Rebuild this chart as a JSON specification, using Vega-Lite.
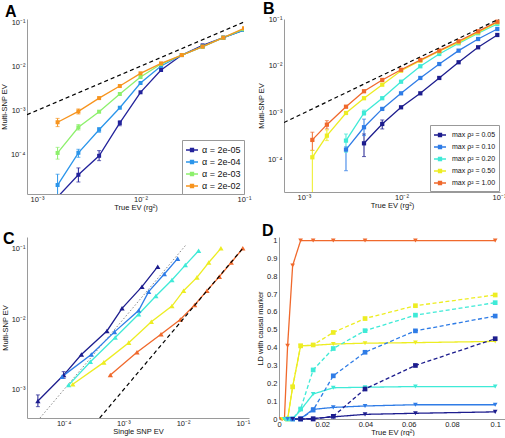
{
  "$schema": "https://vega.github.io/schema/vega-lite/v6.json",
  "padding": {"left": 0, "top": 0, "right": 0, "bottom": 0},
  "config": {
    "font": "Liberation Sans",
    "view": {"stroke": null},
    "title": {"fontSize": 16, "fontWeight": "bold", "font": "Liberation Sans", "anchor": "start", "frame": "group", "color": "#000000"},
    "axis": {"grid": false, "ticks": false, "domainColor": "#9a9a9a", "labelFont": "Liberation Sans", "labelFontSize": 7.5, "labelColor": "#222222", "labelPadding": 2, "titleFont": "Liberation Sans", "titleFontSize": 7.5, "titleFontWeight": "normal", "titleColor": "#111111", "titlePadding": 2, "labelFlush": false, "labelOverlap": false},
    "axisX": {"labelPadding": 1, "titlePadding": 1},
    "legend": {"labelFont": "Liberation Sans", "labelColor": "#111111"}
  },
  "datasets": {
    "A": [
      {"s": "α = 2e-05", "x": 0.00158, "y": 0.000011},
      {"s": "α = 2e-05", "x": 0.00251, "y": 0.000035, "lo": 0.000024, "hi": 0.00005},
      {"s": "α = 2e-05", "x": 0.00398, "y": 0.000094, "lo": 0.000073, "hi": 0.000123},
      {"s": "α = 2e-05", "x": 0.00631, "y": 0.00052, "lo": 0.00045, "hi": 0.000585},
      {"s": "α = 2e-05", "x": 0.01, "y": 0.00257},
      {"s": "α = 2e-05", "x": 0.0158, "y": 0.0082},
      {"s": "α = 2e-05", "x": 0.0251, "y": 0.0179},
      {"s": "α = 2e-05", "x": 0.0398, "y": 0.0296},
      {"s": "α = 2e-05", "x": 0.0631, "y": 0.0442},
      {"s": "α = 2e-05", "x": 0.1, "y": 0.066},
      {"s": "α = 2e-04", "x": 0.00158, "y": 0.0000205, "lo": 0.00001, "hi": 0.000036},
      {"s": "α = 2e-04", "x": 0.00251, "y": 0.00011, "lo": 0.000087, "hi": 0.000132},
      {"s": "α = 2e-04", "x": 0.00398, "y": 0.000366, "lo": 0.00032, "hi": 0.00041},
      {"s": "α = 2e-04", "x": 0.00631, "y": 0.00115},
      {"s": "α = 2e-04", "x": 0.01, "y": 0.00417},
      {"s": "α = 2e-04", "x": 0.0158, "y": 0.0101},
      {"s": "α = 2e-04", "x": 0.0251, "y": 0.0179},
      {"s": "α = 2e-04", "x": 0.0398, "y": 0.0277},
      {"s": "α = 2e-04", "x": 0.0631, "y": 0.0442},
      {"s": "α = 2e-04", "x": 0.1, "y": 0.066},
      {"s": "α = 2e-03", "x": 0.00158, "y": 0.000109, "lo": 0.000079, "hi": 0.000146},
      {"s": "α = 2e-03", "x": 0.00251, "y": 0.000414, "lo": 0.00036, "hi": 0.00048},
      {"s": "α = 2e-03", "x": 0.00398, "y": 0.000935},
      {"s": "α = 2e-03", "x": 0.00631, "y": 0.00235},
      {"s": "α = 2e-03", "x": 0.01, "y": 0.0057},
      {"s": "α = 2e-03", "x": 0.0158, "y": 0.0112},
      {"s": "α = 2e-03", "x": 0.0251, "y": 0.0179},
      {"s": "α = 2e-03", "x": 0.0398, "y": 0.0277},
      {"s": "α = 2e-03", "x": 0.0631, "y": 0.0442},
      {"s": "α = 2e-03", "x": 0.1, "y": 0.069},
      {"s": "α = 2e-02", "x": 0.00158, "y": 0.00054, "lo": 0.00043, "hi": 0.00066},
      {"s": "α = 2e-02", "x": 0.00251, "y": 0.00095, "lo": 0.00083, "hi": 0.00108},
      {"s": "α = 2e-02", "x": 0.00398, "y": 0.0019},
      {"s": "α = 2e-02", "x": 0.00631, "y": 0.00356},
      {"s": "α = 2e-02", "x": 0.01, "y": 0.0069},
      {"s": "α = 2e-02", "x": 0.0158, "y": 0.0116},
      {"s": "α = 2e-02", "x": 0.0251, "y": 0.0179},
      {"s": "α = 2e-02", "x": 0.0398, "y": 0.0277},
      {"s": "α = 2e-02", "x": 0.0631, "y": 0.0442},
      {"s": "α = 2e-02", "x": 0.1, "y": 0.072}
    ],
    "diagA": [{"x": 0.0008, "y": 0.0008}, {"x": 0.1, "y": 0.1}],
    "B": [
      {"s": "max ρ² = 0.05", "x": 0.00413, "y": 0.000226, "lo": 0.000118, "hi": 0.000357},
      {"s": "max ρ² = 0.05", "x": 0.00635, "y": 0.000583, "lo": 0.000457, "hi": 0.00071},
      {"s": "max ρ² = 0.05", "x": 0.0099, "y": 0.00132},
      {"s": "max ρ² = 0.05", "x": 0.0156, "y": 0.00262},
      {"s": "max ρ² = 0.05", "x": 0.0244, "y": 0.00556},
      {"s": "max ρ² = 0.05", "x": 0.0385, "y": 0.012},
      {"s": "max ρ² = 0.05", "x": 0.061, "y": 0.025},
      {"s": "max ρ² = 0.05", "x": 0.096, "y": 0.0457},
      {"s": "max ρ² = 0.10", "x": 0.0027, "y": 0.000166, "lo": 0.000059, "hi": 0.00019},
      {"s": "max ρ² = 0.10", "x": 0.00413, "y": 0.000497, "lo": 0.00033, "hi": 0.00074},
      {"s": "max ρ² = 0.10", "x": 0.00635, "y": 0.00122},
      {"s": "max ρ² = 0.10", "x": 0.0099, "y": 0.00262},
      {"s": "max ρ² = 0.10", "x": 0.0156, "y": 0.00556},
      {"s": "max ρ² = 0.10", "x": 0.0244, "y": 0.011},
      {"s": "max ρ² = 0.10", "x": 0.0385, "y": 0.0212},
      {"s": "max ρ² = 0.10", "x": 0.061, "y": 0.0375},
      {"s": "max ρ² = 0.10", "x": 0.096, "y": 0.0612},
      {"s": "max ρ² = 0.20", "x": 0.0027, "y": 0.000258, "lo": 0.000146, "hi": 0.000357},
      {"s": "max ρ² = 0.20", "x": 0.00413, "y": 0.001, "lo": 0.0009, "hi": 0.00115},
      {"s": "max ρ² = 0.20", "x": 0.00635, "y": 0.00206},
      {"s": "max ρ² = 0.20", "x": 0.0099, "y": 0.00463},
      {"s": "max ρ² = 0.20", "x": 0.0156, "y": 0.00986},
      {"s": "max ρ² = 0.20", "x": 0.0244, "y": 0.018},
      {"s": "max ρ² = 0.20", "x": 0.0385, "y": 0.0304},
      {"s": "max ρ² = 0.20", "x": 0.061, "y": 0.0497},
      {"s": "max ρ² = 0.20", "x": 0.096, "y": 0.0783},
      {"s": "max ρ² = 0.50", "x": 0.00122, "y": 0.000114, "lo": 0.00001, "hi": 0.00016},
      {"s": "max ρ² = 0.50", "x": 0.00172, "y": 0.000329, "lo": 0.000258, "hi": 0.000436},
      {"s": "max ρ² = 0.50", "x": 0.0027, "y": 0.001},
      {"s": "max ρ² = 0.50", "x": 0.00413, "y": 0.00206},
      {"s": "max ρ² = 0.50", "x": 0.00635, "y": 0.004},
      {"s": "max ρ² = 0.50", "x": 0.0099, "y": 0.00794},
      {"s": "max ρ² = 0.50", "x": 0.0156, "y": 0.013},
      {"s": "max ρ² = 0.50", "x": 0.0244, "y": 0.0206},
      {"s": "max ρ² = 0.50", "x": 0.0385, "y": 0.0319},
      {"s": "max ρ² = 0.50", "x": 0.061, "y": 0.052},
      {"s": "max ρ² = 0.50", "x": 0.096, "y": 0.085},
      {"s": "max ρ² = 1.00", "x": 0.00122, "y": 0.000267, "lo": 0.00016, "hi": 0.00039},
      {"s": "max ρ² = 1.00", "x": 0.00172, "y": 0.000564, "lo": 0.000457, "hi": 0.000686},
      {"s": "max ρ² = 1.00", "x": 0.0027, "y": 0.00136},
      {"s": "max ρ² = 1.00", "x": 0.00413, "y": 0.0029},
      {"s": "max ρ² = 1.00", "x": 0.00635, "y": 0.00504},
      {"s": "max ρ² = 1.00", "x": 0.0099, "y": 0.0083},
      {"s": "max ρ² = 1.00", "x": 0.0156, "y": 0.0134},
      {"s": "max ρ² = 1.00", "x": 0.0244, "y": 0.0212},
      {"s": "max ρ² = 1.00", "x": 0.0385, "y": 0.0336},
      {"s": "max ρ² = 1.00", "x": 0.061, "y": 0.0547},
      {"s": "max ρ² = 1.00", "x": 0.096, "y": 0.0877}
    ],
    "diagB": [{"x": 0.000625, "y": 0.000625}, {"x": 0.1, "y": 0.1}],
    "C": [
      {"s": "max ρ² = 0.05", "x": 0.000037, "y": 0.000697, "lo": 0.00058, "hi": 0.00085},
      {"s": "max ρ² = 0.05", "x": 0.0001, "y": 0.00162, "lo": 0.00146, "hi": 0.00181},
      {"s": "max ρ² = 0.05", "x": 0.000198, "y": 0.00316},
      {"s": "max ρ² = 0.05", "x": 0.00053, "y": 0.0068},
      {"s": "max ρ² = 0.05", "x": 0.00095, "y": 0.0142},
      {"s": "max ρ² = 0.05", "x": 0.00205, "y": 0.0287},
      {"s": "max ρ² = 0.05", "x": 0.00376, "y": 0.055},
      {"s": "max ρ² = 0.10", "x": 0.000094, "y": 0.00154},
      {"s": "max ρ² = 0.10", "x": 0.00029, "y": 0.00316},
      {"s": "max ρ² = 0.10", "x": 0.00071, "y": 0.0066},
      {"s": "max ρ² = 0.10", "x": 0.0018, "y": 0.0132},
      {"s": "max ρ² = 0.10", "x": 0.00265, "y": 0.0244},
      {"s": "max ρ² = 0.10", "x": 0.00485, "y": 0.0434},
      {"s": "max ρ² = 0.10", "x": 0.0081, "y": 0.0715},
      {"s": "max ρ² = 0.20", "x": 0.000121, "y": 0.00117},
      {"s": "max ρ² = 0.20", "x": 0.00028, "y": 0.0025},
      {"s": "max ρ² = 0.20", "x": 0.00073, "y": 0.0055},
      {"s": "max ρ² = 0.20", "x": 0.0018, "y": 0.0117},
      {"s": "max ρ² = 0.20", "x": 0.0035, "y": 0.0212},
      {"s": "max ρ² = 0.20", "x": 0.0065, "y": 0.0357},
      {"s": "max ρ² = 0.20", "x": 0.0109, "y": 0.058},
      {"s": "max ρ² = 0.20", "x": 0.0182, "y": 0.0925},
      {"s": "max ρ² = 0.50", "x": 0.000142, "y": 0.0012},
      {"s": "max ρ² = 0.50", "x": 0.00047, "y": 0.00245},
      {"s": "max ρ² = 0.50", "x": 0.00123, "y": 0.00465},
      {"s": "max ρ² = 0.50", "x": 0.00294, "y": 0.0092},
      {"s": "max ρ² = 0.50", "x": 0.0065, "y": 0.0153},
      {"s": "max ρ² = 0.50", "x": 0.0102, "y": 0.0252},
      {"s": "max ρ² = 0.50", "x": 0.0171, "y": 0.0389},
      {"s": "max ρ² = 0.50", "x": 0.0269, "y": 0.063},
      {"s": "max ρ² = 0.50", "x": 0.043, "y": 0.1},
      {"s": "max ρ² = 1.00", "x": 0.000605, "y": 0.00162},
      {"s": "max ρ² = 1.00", "x": 0.00169, "y": 0.0034},
      {"s": "max ρ² = 1.00", "x": 0.00427, "y": 0.0061},
      {"s": "max ρ² = 1.00", "x": 0.009, "y": 0.0099},
      {"s": "max ρ² = 1.00", "x": 0.0156, "y": 0.0158},
      {"s": "max ρ² = 1.00", "x": 0.0251, "y": 0.0252},
      {"s": "max ρ² = 1.00", "x": 0.0405, "y": 0.0398},
      {"s": "max ρ² = 1.00", "x": 0.064, "y": 0.063},
      {"s": "max ρ² = 1.00", "x": 0.1, "y": 0.1}
    ],
    "diagC": [{"x": 0.000401, "y": 0.000401}, {"x": 0.1, "y": 0.1}],
    "dotC": [{"x": 0.0000401, "y": 0.000401}, {"x": 0.011, "y": 0.11}],
    "D": [
      {"s": "max ρ² = 1.00", "type": "top SNP", "x": 0.001, "y": 0},
      {"s": "max ρ² = 1.00", "type": "top SNP", "x": 0.00158, "y": 0},
      {"s": "max ρ² = 1.00", "type": "top SNP", "x": 0.00251, "y": 0},
      {"s": "max ρ² = 1.00", "type": "top SNP", "x": 0.00398, "y": 0.41},
      {"s": "max ρ² = 1.00", "type": "top SNP", "x": 0.00631, "y": 0.86},
      {"s": "max ρ² = 1.00", "type": "top SNP", "x": 0.01, "y": 1},
      {"s": "max ρ² = 1.00", "type": "top SNP", "x": 0.0158, "y": 1},
      {"s": "max ρ² = 1.00", "type": "top SNP", "x": 0.0251, "y": 1},
      {"s": "max ρ² = 1.00", "type": "top SNP", "x": 0.0398, "y": 1},
      {"s": "max ρ² = 1.00", "type": "top SNP", "x": 0.0631, "y": 1},
      {"s": "max ρ² = 1.00", "type": "top SNP", "x": 0.1, "y": 1},
      {"s": "max ρ² = 0.50", "type": "top SNP", "x": 0.00158, "y": 0},
      {"s": "max ρ² = 0.50", "type": "top SNP", "x": 0.00251, "y": 0},
      {"s": "max ρ² = 0.50", "type": "top SNP", "x": 0.00398, "y": 0},
      {"s": "max ρ² = 0.50", "type": "top SNP", "x": 0.00631, "y": 0.18},
      {"s": "max ρ² = 0.50", "type": "top SNP", "x": 0.01, "y": 0.41},
      {"s": "max ρ² = 0.50", "type": "top SNP", "x": 0.0158, "y": 0.413},
      {"s": "max ρ² = 0.50", "type": "top SNP", "x": 0.0251, "y": 0.42},
      {"s": "max ρ² = 0.50", "type": "top SNP", "x": 0.0398, "y": 0.425},
      {"s": "max ρ² = 0.50", "type": "top SNP", "x": 0.0631, "y": 0.428},
      {"s": "max ρ² = 0.50", "type": "top SNP", "x": 0.1, "y": 0.435},
      {"s": "max ρ² = 0.50", "type": "meta-SNP", "x": 0.00398, "y": 0},
      {"s": "max ρ² = 0.50", "type": "meta-SNP", "x": 0.00631, "y": 0.18},
      {"s": "max ρ² = 0.50", "type": "meta-SNP", "x": 0.01, "y": 0.41},
      {"s": "max ρ² = 0.50", "type": "meta-SNP", "x": 0.0158, "y": 0.415},
      {"s": "max ρ² = 0.50", "type": "meta-SNP", "x": 0.0251, "y": 0.485},
      {"s": "max ρ² = 0.50", "type": "meta-SNP", "x": 0.0398, "y": 0.563},
      {"s": "max ρ² = 0.50", "type": "meta-SNP", "x": 0.0631, "y": 0.635},
      {"s": "max ρ² = 0.50", "type": "meta-SNP", "x": 0.1, "y": 0.695},
      {"s": "max ρ² = 0.20", "type": "top SNP", "x": 0.00251, "y": 0},
      {"s": "max ρ² = 0.20", "type": "top SNP", "x": 0.00398, "y": 0},
      {"s": "max ρ² = 0.20", "type": "top SNP", "x": 0.00631, "y": 0},
      {"s": "max ρ² = 0.20", "type": "top SNP", "x": 0.01, "y": 0.05},
      {"s": "max ρ² = 0.20", "type": "top SNP", "x": 0.0158, "y": 0.14},
      {"s": "max ρ² = 0.20", "type": "top SNP", "x": 0.0251, "y": 0.175},
      {"s": "max ρ² = 0.20", "type": "top SNP", "x": 0.0398, "y": 0.178},
      {"s": "max ρ² = 0.20", "type": "top SNP", "x": 0.0631, "y": 0.182},
      {"s": "max ρ² = 0.20", "type": "top SNP", "x": 0.1, "y": 0.182},
      {"s": "max ρ² = 0.20", "type": "meta-SNP", "x": 0.00398, "y": 0},
      {"s": "max ρ² = 0.20", "type": "meta-SNP", "x": 0.00631, "y": 0},
      {"s": "max ρ² = 0.20", "type": "meta-SNP", "x": 0.01, "y": 0.056},
      {"s": "max ρ² = 0.20", "type": "meta-SNP", "x": 0.0158, "y": 0.275},
      {"s": "max ρ² = 0.20", "type": "meta-SNP", "x": 0.0251, "y": 0.395},
      {"s": "max ρ² = 0.20", "type": "meta-SNP", "x": 0.0398, "y": 0.495},
      {"s": "max ρ² = 0.20", "type": "meta-SNP", "x": 0.0631, "y": 0.582},
      {"s": "max ρ² = 0.20", "type": "meta-SNP", "x": 0.1, "y": 0.652},
      {"s": "max ρ² = 0.10", "type": "top SNP", "x": 0.00398, "y": 0},
      {"s": "max ρ² = 0.10", "type": "top SNP", "x": 0.00631, "y": 0},
      {"s": "max ρ² = 0.10", "type": "top SNP", "x": 0.01, "y": 0.002},
      {"s": "max ρ² = 0.10", "type": "top SNP", "x": 0.0158, "y": 0.054},
      {"s": "max ρ² = 0.10", "type": "top SNP", "x": 0.0251, "y": 0.065},
      {"s": "max ρ² = 0.10", "type": "top SNP", "x": 0.0398, "y": 0.073},
      {"s": "max ρ² = 0.10", "type": "top SNP", "x": 0.0631, "y": 0.08},
      {"s": "max ρ² = 0.10", "type": "top SNP", "x": 0.1, "y": 0.08},
      {"s": "max ρ² = 0.10", "type": "meta-SNP", "x": 0.00631, "y": 0},
      {"s": "max ρ² = 0.10", "type": "meta-SNP", "x": 0.01, "y": 0},
      {"s": "max ρ² = 0.10", "type": "meta-SNP", "x": 0.0158, "y": 0.05},
      {"s": "max ρ² = 0.10", "type": "meta-SNP", "x": 0.0251, "y": 0.242},
      {"s": "max ρ² = 0.10", "type": "meta-SNP", "x": 0.0398, "y": 0.374},
      {"s": "max ρ² = 0.10", "type": "meta-SNP", "x": 0.0631, "y": 0.494},
      {"s": "max ρ² = 0.10", "type": "meta-SNP", "x": 0.1, "y": 0.577},
      {"s": "max ρ² = 0.05", "type": "top SNP", "x": 0.00631, "y": 0},
      {"s": "max ρ² = 0.05", "type": "top SNP", "x": 0.01, "y": 0},
      {"s": "max ρ² = 0.05", "type": "top SNP", "x": 0.0158, "y": 0.003},
      {"s": "max ρ² = 0.05", "type": "top SNP", "x": 0.0251, "y": 0.012},
      {"s": "max ρ² = 0.05", "type": "top SNP", "x": 0.0398, "y": 0.026},
      {"s": "max ρ² = 0.05", "type": "top SNP", "x": 0.0631, "y": 0.032},
      {"s": "max ρ² = 0.05", "type": "top SNP", "x": 0.1, "y": 0.04},
      {"s": "max ρ² = 0.05", "type": "meta-SNP", "x": 0.01, "y": 0},
      {"s": "max ρ² = 0.05", "type": "meta-SNP", "x": 0.0158, "y": 0},
      {"s": "max ρ² = 0.05", "type": "meta-SNP", "x": 0.0251, "y": 0.015},
      {"s": "max ρ² = 0.05", "type": "meta-SNP", "x": 0.0398, "y": 0.168},
      {"s": "max ρ² = 0.05", "type": "meta-SNP", "x": 0.0631, "y": 0.3},
      {"s": "max ρ² = 0.05", "type": "meta-SNP", "x": 0.1, "y": 0.45}
    ]
  },
  "spacing": 11,
  "resolve": {"scale": {"color": "independent", "fill": "independent", "stroke": "independent", "shape": "independent", "strokeDash": "independent"}},
  "vconcat": [
    {
      "spacing": 40,
      "bounds": "flush",
      "resolve": {"scale": {"color": "independent", "fill": "independent", "stroke": "independent", "shape": "independent", "strokeDash": "independent"}},
      "hconcat": [
        {
          "width": 217, "height": 175,
          "title": {"text": "A", "dx": -22, "offset": -1.5},
          "encoding": {
            "x": {"field": "x", "type": "quantitative", "scale": {"type": "log", "domain": [0.0008, 0.1], "nice": false}, "axis": {"title": "True EV (rg²)", "values": [0.001, 0.01, 0.1], "labelExpr": "'10' + ['⁻¹','⁻²','⁻³','⁻⁴','⁻⁵'][round(-log(datum.value)/LN10) - 1]"}},
            "y": {"field": "y", "type": "quantitative", "scale": {"type": "log", "domain": [0.00001285, 0.117], "nice": false}, "axis": {"title": "Multi-SNP EV", "values": [0.0001, 0.001, 0.01, 0.1], "labelExpr": "'10' + ['⁻¹','⁻²','⁻³','⁻⁴','⁻⁵'][round(-log(datum.value)/LN10) - 1]"}}
          },
          "layer": [
            {
              "data": {"name": "A"},
              "transform": [{"filter": "isValid(datum.lo)"}],
              "mark": {"type": "rule", "strokeWidth": 1, "clip": true},
              "encoding": {
                "y": {"field": "lo", "type": "quantitative", "scale": {"type": "log", "domain": [0.00001285, 0.117], "nice": false}, "axis": {"title": "Multi-SNP EV", "values": [0.0001, 0.001, 0.01, 0.1], "labelExpr": "'10' + ['⁻¹','⁻²','⁻³','⁻⁴','⁻⁵'][round(-log(datum.value)/LN10) - 1]"}},
                "y2": {"field": "hi"},
                "color": {"condition": [{"test": "datum.s === 'α = 2e-05'", "value": "#23239b"}, {"test": "datum.s === 'α = 2e-04'", "value": "#2b95ea"}, {"test": "datum.s === 'α = 2e-03'", "value": "#8df06c"}], "value": "#f7941e"}
              }
            },
            {
              "data": {"name": "A"},
              "transform": [{"filter": "isValid(datum.lo)"}],
              "mark": {"type": "tick", "orient": "horizontal", "size": 4, "thickness": 1, "clip": true},
              "encoding": {
                "y": {"field": "lo", "type": "quantitative", "scale": {"type": "log", "domain": [0.00001285, 0.117], "nice": false}, "axis": {"title": "Multi-SNP EV", "values": [0.0001, 0.001, 0.01, 0.1], "labelExpr": "'10' + ['⁻¹','⁻²','⁻³','⁻⁴','⁻⁵'][round(-log(datum.value)/LN10) - 1]"}},
                "color": {"condition": [{"test": "datum.s === 'α = 2e-05'", "value": "#23239b"}, {"test": "datum.s === 'α = 2e-04'", "value": "#2b95ea"}, {"test": "datum.s === 'α = 2e-03'", "value": "#8df06c"}], "value": "#f7941e"}
              }
            },
            {
              "data": {"name": "A"},
              "transform": [{"filter": "isValid(datum.hi)"}],
              "mark": {"type": "tick", "orient": "horizontal", "size": 4, "thickness": 1, "clip": true},
              "encoding": {
                "y": {"field": "hi", "type": "quantitative", "scale": {"type": "log", "domain": [0.00001285, 0.117], "nice": false}, "axis": {"title": "Multi-SNP EV", "values": [0.0001, 0.001, 0.01, 0.1], "labelExpr": "'10' + ['⁻¹','⁻²','⁻³','⁻⁴','⁻⁵'][round(-log(datum.value)/LN10) - 1]"}},
                "color": {"condition": [{"test": "datum.s === 'α = 2e-05'", "value": "#23239b"}, {"test": "datum.s === 'α = 2e-04'", "value": "#2b95ea"}, {"test": "datum.s === 'α = 2e-03'", "value": "#8df06c"}], "value": "#f7941e"}
              }
            },
            {
              "data": {"name": "A"},
              "mark": {"type": "line", "strokeWidth": 1.3, "clip": true},
              "encoding": {
                "color": {"field": "s", "type": "nominal", "scale": {"domain": ["α = 2e-05", "α = 2e-04", "α = 2e-03", "α = 2e-02"], "range": ["#23239b", "#2b95ea", "#8df06c", "#f7941e"]},
                  "legend": {"title": null, "orient": "bottom-right", "offset": 0, "fillColor": "#ffffff", "strokeColor": "#999999", "padding": 3, "labelFontSize": 9, "labelOffset": 3, "symbolType": "M-1,0L1,0M-0.25,-0.25L0.25,-0.25L0.25,0.25L-0.25,0.25Z", "symbolSize": 144, "symbolStrokeWidth": 1.3, "rowPadding": 0}}
              }
            },
            {
              "data": {"name": "A"},
              "mark": {"type": "point", "shape": "square", "filled": true, "size": 16, "opacity": 1, "clip": true},
              "encoding": {
                "color": {"condition": [{"test": "datum.s === 'α = 2e-05'", "value": "#23239b"}, {"test": "datum.s === 'α = 2e-04'", "value": "#2b95ea"}, {"test": "datum.s === 'α = 2e-03'", "value": "#8df06c"}], "value": "#f7941e"}
              }
            },
            {
              "data": {"name": "diagA"},
              "mark": {"type": "line", "strokeDash": [4, 3], "color": "#000000", "strokeWidth": 1.2, "clip": true},
              "encoding": {}
            }
          ]
        },
        {
          "width": 216, "height": 173,
          "title": {"text": "B", "dx": -21, "offset": -1.5},
          "encoding": {
            "x": {"field": "x", "type": "quantitative", "scale": {"type": "log", "domain": [0.000625, 0.1023], "nice": false}, "axis": {"title": "True EV (rg²)", "values": [0.001, 0.01, 0.1], "labelExpr": "'10' + ['⁻¹','⁻²','⁻³','⁻⁴','⁻⁵'][round(-log(datum.value)/LN10) - 1]"}},
            "y": {"field": "y", "type": "quantitative", "scale": {"type": "log", "domain": [0.0000208, 0.1], "nice": false}, "axis": {"title": "Multi-SNP EV", "values": [0.0001, 0.001, 0.01, 0.1], "labelExpr": "'10' + ['⁻¹','⁻²','⁻³','⁻⁴','⁻⁵'][round(-log(datum.value)/LN10) - 1]"}}
          },
          "layer": [
            {
              "data": {"name": "B"},
              "transform": [{"filter": "isValid(datum.lo)"}],
              "mark": {"type": "rule", "strokeWidth": 1, "clip": true},
              "encoding": {
                "y": {"field": "lo", "type": "quantitative", "scale": {"type": "log", "domain": [0.0000208, 0.1], "nice": false}, "axis": {"title": "Multi-SNP EV", "values": [0.0001, 0.001, 0.01, 0.1], "labelExpr": "'10' + ['⁻¹','⁻²','⁻³','⁻⁴','⁻⁵'][round(-log(datum.value)/LN10) - 1]"}},
                "y2": {"field": "hi"},
                "color": {"condition": [{"test": "datum.s === 'max ρ² = 0.05'", "value": "#1d1d8e"}, {"test": "datum.s === 'max ρ² = 0.10'", "value": "#2f7ce6"}, {"test": "datum.s === 'max ρ² = 0.20'", "value": "#3fead7"}, {"test": "datum.s === 'max ρ² = 0.50'", "value": "#eded22"}], "value": "#f0692c"}
              }
            },
            {
              "data": {"name": "B"},
              "transform": [{"filter": "isValid(datum.lo)"}],
              "mark": {"type": "tick", "orient": "horizontal", "size": 4, "thickness": 1, "clip": true},
              "encoding": {
                "y": {"field": "lo", "type": "quantitative", "scale": {"type": "log", "domain": [0.0000208, 0.1], "nice": false}, "axis": {"title": "Multi-SNP EV", "values": [0.0001, 0.001, 0.01, 0.1], "labelExpr": "'10' + ['⁻¹','⁻²','⁻³','⁻⁴','⁻⁵'][round(-log(datum.value)/LN10) - 1]"}},
                "color": {"condition": [{"test": "datum.s === 'max ρ² = 0.05'", "value": "#1d1d8e"}, {"test": "datum.s === 'max ρ² = 0.10'", "value": "#2f7ce6"}, {"test": "datum.s === 'max ρ² = 0.20'", "value": "#3fead7"}, {"test": "datum.s === 'max ρ² = 0.50'", "value": "#eded22"}], "value": "#f0692c"}
              }
            },
            {
              "data": {"name": "B"},
              "transform": [{"filter": "isValid(datum.hi)"}],
              "mark": {"type": "tick", "orient": "horizontal", "size": 4, "thickness": 1, "clip": true},
              "encoding": {
                "y": {"field": "hi", "type": "quantitative", "scale": {"type": "log", "domain": [0.0000208, 0.1], "nice": false}, "axis": {"title": "Multi-SNP EV", "values": [0.0001, 0.001, 0.01, 0.1], "labelExpr": "'10' + ['⁻¹','⁻²','⁻³','⁻⁴','⁻⁵'][round(-log(datum.value)/LN10) - 1]"}},
                "color": {"condition": [{"test": "datum.s === 'max ρ² = 0.05'", "value": "#1d1d8e"}, {"test": "datum.s === 'max ρ² = 0.10'", "value": "#2f7ce6"}, {"test": "datum.s === 'max ρ² = 0.20'", "value": "#3fead7"}, {"test": "datum.s === 'max ρ² = 0.50'", "value": "#eded22"}], "value": "#f0692c"}
              }
            },
            {
              "data": {"name": "B"},
              "mark": {"type": "line", "strokeWidth": 1.3, "clip": true},
              "encoding": {
                "color": {"field": "s", "type": "nominal", "scale": {"domain": ["max ρ² = 0.05", "max ρ² = 0.10", "max ρ² = 0.20", "max ρ² = 0.50", "max ρ² = 1.00"], "range": ["#1d1d8e", "#2f7ce6", "#3fead7", "#eded22", "#f0692c"]},
                  "legend": {"title": null, "orient": "bottom-right", "offset": 1, "fillColor": "#ffffff", "strokeColor": "#999999", "padding": 3, "labelFontSize": 7, "labelOffset": 5, "symbolType": "M-1,0L1,0M-0.25,-0.25L0.25,-0.25L0.25,0.25L-0.25,0.25Z", "symbolSize": 144, "symbolStrokeWidth": 1.3, "rowPadding": 0}}
              }
            },
            {
              "data": {"name": "B"},
              "mark": {"type": "point", "shape": "square", "filled": true, "size": 18, "opacity": 1, "clip": true},
              "encoding": {
                "color": {"condition": [{"test": "datum.s === 'max ρ² = 0.05'", "value": "#1d1d8e"}, {"test": "datum.s === 'max ρ² = 0.10'", "value": "#2f7ce6"}, {"test": "datum.s === 'max ρ² = 0.20'", "value": "#3fead7"}, {"test": "datum.s === 'max ρ² = 0.50'", "value": "#eded22"}], "value": "#f0692c"}
              }
            },
            {
              "data": {"name": "diagB"},
              "mark": {"type": "line", "strokeDash": [4, 3], "color": "#000000", "strokeWidth": 1.2, "clip": true},
              "encoding": {}
            }
          ]
        }
      ]
    },
    {
      "spacing": 30,
      "bounds": "flush",
      "resolve": {"scale": {"color": "independent", "fill": "independent", "stroke": "independent", "shape": "independent", "strokeDash": "independent"}},
      "hconcat": [
        {
          "width": 222, "height": 181,
          "title": {"text": "C", "dx": -24, "offset": -9.5},
          "encoding": {
            "x": {"field": "x", "type": "quantitative", "scale": {"type": "log", "domain": [0.0000243, 0.127], "nice": false}, "axis": {"title": "Single SNP EV", "values": [0.0001, 0.001, 0.01, 0.1], "labelExpr": "'10' + ['⁻¹','⁻²','⁻³','⁻⁴','⁻⁵'][round(-log(datum.value)/LN10) - 1]"}},
            "y": {"field": "y", "type": "quantitative", "scale": {"type": "log", "domain": [0.000401, 0.1445], "nice": false}, "axis": {"title": "Multi-SNP EV", "values": [0.001, 0.01, 0.1], "labelExpr": "'10' + ['⁻¹','⁻²','⁻³','⁻⁴','⁻⁵'][round(-log(datum.value)/LN10) - 1]"}}
          },
          "layer": [
            {
              "data": {"name": "dotC"},
              "mark": {"type": "line", "strokeDash": [1.5, 2], "color": "#888888", "strokeWidth": 1, "clip": true},
              "encoding": {}
            },
            {
              "data": {"name": "C"},
              "transform": [{"filter": "isValid(datum.lo)"}],
              "mark": {"type": "rule", "strokeWidth": 1, "clip": true},
              "encoding": {
                "y": {"field": "lo", "type": "quantitative", "scale": {"type": "log", "domain": [0.000401, 0.1445], "nice": false}, "axis": {"title": "Multi-SNP EV", "values": [0.001, 0.01, 0.1], "labelExpr": "'10' + ['⁻¹','⁻²','⁻³','⁻⁴','⁻⁵'][round(-log(datum.value)/LN10) - 1]"}},
                "y2": {"field": "hi"},
                "stroke": {"field": "s", "type": "nominal", "scale": {"domain": ["max ρ² = 0.05", "max ρ² = 0.10", "max ρ² = 0.20", "max ρ² = 0.50", "max ρ² = 1.00"], "range": ["#1d1d8e", "#2f7ce6", "#3fead7", "#eded22", "#f0692c"]}, "legend": null}
              }
            },
            {
              "data": {"name": "C"},
              "transform": [{"filter": "isValid(datum.lo)"}],
              "mark": {"type": "tick", "orient": "horizontal", "size": 4, "thickness": 1, "clip": true},
              "encoding": {
                "y": {"field": "lo", "type": "quantitative", "scale": {"type": "log", "domain": [0.000401, 0.1445], "nice": false}, "axis": {"title": "Multi-SNP EV", "values": [0.001, 0.01, 0.1], "labelExpr": "'10' + ['⁻¹','⁻²','⁻³','⁻⁴','⁻⁵'][round(-log(datum.value)/LN10) - 1]"}},
                "fill": {"field": "s", "type": "nominal", "scale": {"domain": ["max ρ² = 0.05", "max ρ² = 0.10", "max ρ² = 0.20", "max ρ² = 0.50", "max ρ² = 1.00"], "range": ["#1d1d8e", "#2f7ce6", "#3fead7", "#eded22", "#f0692c"]}, "legend": null}
              }
            },
            {
              "data": {"name": "C"},
              "transform": [{"filter": "isValid(datum.hi)"}],
              "mark": {"type": "tick", "orient": "horizontal", "size": 4, "thickness": 1, "clip": true},
              "encoding": {
                "y": {"field": "hi", "type": "quantitative", "scale": {"type": "log", "domain": [0.000401, 0.1445], "nice": false}, "axis": {"title": "Multi-SNP EV", "values": [0.001, 0.01, 0.1], "labelExpr": "'10' + ['⁻¹','⁻²','⁻³','⁻⁴','⁻⁵'][round(-log(datum.value)/LN10) - 1]"}},
                "fill": {"field": "s", "type": "nominal", "scale": {"domain": ["max ρ² = 0.05", "max ρ² = 0.10", "max ρ² = 0.20", "max ρ² = 0.50", "max ρ² = 1.00"], "range": ["#1d1d8e", "#2f7ce6", "#3fead7", "#eded22", "#f0692c"]}, "legend": null}
              }
            },
            {
              "data": {"name": "C"},
              "mark": {"type": "line", "strokeWidth": 1.3, "clip": true},
              "encoding": {
                "color": {"field": "s", "type": "nominal", "scale": {"domain": ["max ρ² = 0.05", "max ρ² = 0.10", "max ρ² = 0.20", "max ρ² = 0.50", "max ρ² = 1.00"], "range": ["#1d1d8e", "#2f7ce6", "#3fead7", "#eded22", "#f0692c"]}, "legend": null}
              }
            },
            {
              "data": {"name": "C"},
              "mark": {"type": "point", "shape": "triangle-up", "filled": true, "size": 28, "opacity": 1, "clip": true},
              "encoding": {
                "fill": {"field": "s", "type": "nominal", "scale": {"domain": ["max ρ² = 0.05", "max ρ² = 0.10", "max ρ² = 0.20", "max ρ² = 0.50", "max ρ² = 1.00"], "range": ["#1d1d8e", "#2f7ce6", "#3fead7", "#eded22", "#f0692c"]}, "legend": null}
              }
            },
            {
              "data": {"name": "diagC"},
              "mark": {"type": "line", "strokeDash": [4, 3], "color": "#000000", "strokeWidth": 1.2, "clip": true},
              "encoding": {}
            }
          ]
        },
        {
          "width": 227, "height": 182,
          "title": {"text": "D", "dx": -17, "offset": -2},
          "data": {"name": "D"},
          "encoding": {
            "x": {"field": "x", "type": "quantitative", "scale": {"domain": [0, 0.105], "nice": false}, "axis": {"title": "True EV (rg²)", "values": [0, 0.02, 0.04, 0.06, 0.08, 0.1], "format": "~g"}},
            "y": {"field": "y", "type": "quantitative", "scale": {"domain": [0, 1.02], "nice": false}, "axis": {"title": "LD with causal marker", "values": [0, 0.1, 0.2, 0.3, 0.4, 0.5, 0.6, 0.7, 0.8, 0.9, 1], "format": "~g"}},
            "color": {"field": "s", "type": "nominal", "scale": {"domain": ["max ρ² = 0.05", "max ρ² = 0.10", "max ρ² = 0.20", "max ρ² = 0.50", "max ρ² = 1.00"], "range": ["#1d1d8e", "#2f7ce6", "#3fead7", "#eded22", "#f0692c"]}, "legend": null}
          },
          "layer": [
            {
              "mark": {"type": "line", "strokeWidth": 1.3},
              "encoding": {
                "strokeDash": {"field": "type", "type": "nominal", "scale": {"domain": ["meta-SNP", "top SNP"], "range": [[4, 2.5], [1, 0]]}, "legend": null}
              }
            },
            {
              "mark": {"type": "point", "filled": true, "size": 22, "opacity": 1},
              "encoding": {
                "shape": {"field": "type", "type": "nominal", "scale": {"domain": ["meta-SNP", "top SNP"], "range": ["square", "triangle-down"]},
                  "legend": {"title": null, "orient": "top-right", "offset": 3, "fillColor": "#ffffff", "strokeColor": "#999999", "padding": 3, "labelFontSize": 7, "labelOffset": 8, "symbolOffset": 6, "symbolSize": 25, "symbolFillColor": "#c0c0c0", "symbolStrokeColor": "#c0c0c0", "rowPadding": 2}}
              }
            }
          ]
        }
      ]
    }
  ]
}
